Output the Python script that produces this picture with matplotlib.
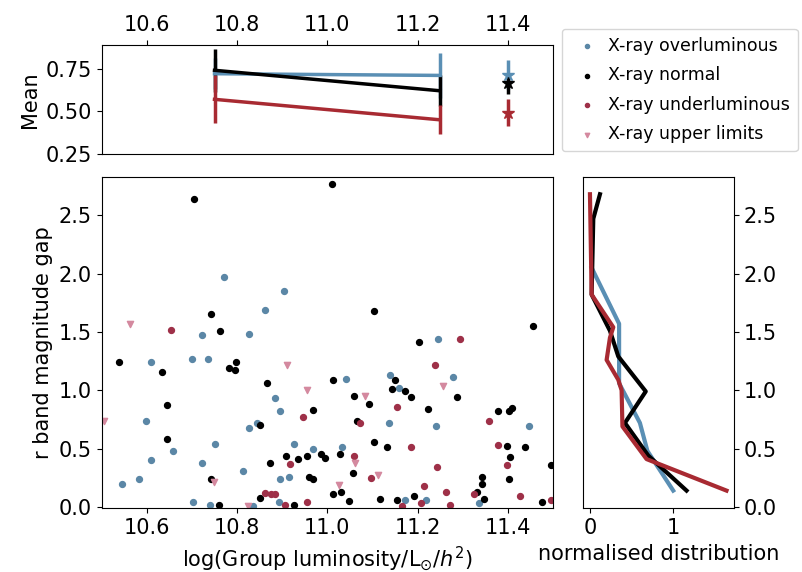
import matplotlib
matplotlib.use('Agg')
import matplotlib.pyplot as plt

# --- Farben ---
C_OVER = '#5a8fb4'
C_NORM = 'black'
C_UNDER = '#a82a32'
C_UPPER = '#d4899f'
C_OVER_S = '#5b87a6'
C_UNDER_S = '#9e3048'

# --- Streudiagramm: log(L) gegen Magnitudenlücke ---
over_x = [10.772, 10.905, 10.862, 10.722, 10.827, 11.246, 10.609, 10.701, 10.735, 10.883,
          10.895, 10.598, 10.844, 10.827, 10.657, 10.752, 10.926, 10.609, 10.722, 10.814,
          10.545, 10.582, 10.895, 10.916, 10.702, 10.739, 10.835, 10.892, 11.138, 11.278,
          11.042, 11.159, 11.446, 11.241, 11.137, 10.968, 11.032, 11.172, 11.219, 11.335]
over_y = [1.97, 1.85, 1.69, 1.47, 1.48, 1.44, 1.24, 1.27, 1.27, 0.93,
          0.82, 0.74, 0.72, 0.68, 0.48, 0.54, 0.54, 0.40, 0.38, 0.31,
          0.20, 0.24, 0.24, 0.26, 0.04, 0.02, 0.005, 0.04, 1.13, 1.11,
          1.10, 1.02, 0.69, 0.69, 0.72, 0.50, 0.51, 0.06, 0.06, 0.035]

norm_x = [10.705, 10.742, 10.762, 11.011, 11.104, 11.455, 11.204, 10.538, 10.633, 10.782,
          10.797, 10.796, 10.867, 10.644, 10.851, 10.645, 10.909, 10.936, 10.955, 10.872,
          10.742, 10.960, 10.851, 10.759, 10.927, 11.149, 11.013, 11.144, 11.171, 11.185,
          11.287, 11.059, 11.093, 11.223, 10.969, 11.379, 11.402, 11.409, 11.065, 11.104,
          11.133, 11.398, 11.439, 10.986, 10.995, 11.028, 11.405, 11.496, 10.968, 11.056,
          11.343, 11.343, 11.402, 11.331, 11.013, 11.030, 11.048, 11.117, 11.154, 11.193,
          11.348, 11.476]
norm_y = [2.64, 1.65, 1.51, 2.77, 1.68, 1.55, 1.41, 1.24, 1.16, 1.19,
          1.24, 1.17, 1.06, 0.875, 0.70, 0.58, 0.435, 0.41, 0.44, 0.38,
          0.24, 0.26, 0.08, 0.02, 0.02, 1.09, 1.09, 1.01, 0.995, 0.94,
          0.94, 0.95, 0.88, 0.84, 0.835, 0.82, 0.82, 0.85, 0.74, 0.56,
          0.51, 0.52, 0.51, 0.45, 0.42, 0.45, 0.43, 0.36, 0.24, 0.29,
          0.26, 0.195, 0.24, 0.125, 0.115, 0.125, 0.05, 0.07, 0.06, 0.09,
          0.07, 0.04]

under_x = [10.653, 11.295, 10.947, 10.917, 10.862, 10.875, 10.883, 10.906, 10.955, 11.239,
           11.154, 11.359, 11.073, 11.185, 11.379, 11.059, 11.399, 11.243, 11.096, 11.215,
           11.263, 11.326, 11.427, 11.165, 11.208, 11.272, 11.496]
under_y = [1.52, 1.44, 0.77, 0.37, 0.12, 0.11, 0.11, 0.02, 0.04, 1.215,
           0.86, 0.74, 0.72, 0.51, 0.53, 0.44, 0.36, 0.34, 0.25, 0.18,
           0.13, 0.115, 0.095, 0.01, 0.035, 0.02, 0.06]

upper_x = [10.563, 10.910, 10.956, 10.506, 10.749, 10.824, 11.256, 11.084, 11.062, 11.113, 11.025]
upper_y = [1.57, 1.22, 1.00, 0.74, 0.21, 0.005, 1.035, 0.95, 0.38, 0.27, 0.19]

# --- Mittelwerte (oben) ---
bin_x = [10.75, 11.25]
over_mean = [0.72, 0.71]
over_err = [0.09, 0.13]
norm_mean = [0.74, 0.62]
norm_err = [0.125, 0.09]
under_mean = [0.57, 0.45]
under_err = [0.14, 0.085]

all_x = [11.4]
over_all, over_all_err = [0.713], [0.085]
norm_all, norm_all_err = [0.664], [0.06]
under_all, under_all_err = [0.492], [0.08]

# --- normierte Verteilungen (rechts) ---
over_dist = [0.02, 0.35, 0.35, 0.60, 0.69, 1.00]
over_gap = [2.05, 1.57, 1.06, 0.72, 0.48, 0.14]
norm_dist = [0.12, 0.04, 0.02, 0.24, 0.34, 0.67, 0.42, 0.70, 1.16]
norm_gap = [2.68, 2.47, 1.82, 1.51, 1.29, 0.99, 0.72, 0.44, 0.14]
under_dist = [0.0, 0.02, 0.28, 0.24, 0.20, 0.34, 0.38, 0.39, 0.68, 1.64]
under_gap = [2.68, 1.82, 1.54, 1.45, 1.26, 1.09, 1.00, 0.69, 0.41, 0.14]

FS = 15

fig = plt.figure(figsize=(8.02, 5.72), dpi=100)
ax_top = fig.add_axes([0.1268, 0.7308, 0.5627, 0.1905])
ax = fig.add_axes([0.1268, 0.1113, 0.5627, 0.5787])
ax_r = fig.add_axes([0.7269, 0.1113, 0.1883, 0.5787])

# Hauptplot
h1 = ax.scatter(over_x, over_y, s=18, color=C_OVER_S, marker='o', label='X-ray overluminous')
h2 = ax.scatter(norm_x, norm_y, s=18, color=C_NORM, marker='o', label='X-ray normal')
h3 = ax.scatter(under_x, under_y, s=18, color=C_UNDER_S, marker='o', label='X-ray underluminous')
h4 = ax.scatter(upper_x, upper_y, s=20, color=C_UPPER, marker='v', label='X-ray upper limits')
ax.set_xlim(10.5, 11.5)
ax.set_ylim(-0.012, 2.825)
ax.set_xticks([10.6, 10.8, 11.0, 11.2, 11.4])
ax.set_yticks([0.0, 0.5, 1.0, 1.5, 2.0, 2.5])
ax.tick_params(labelsize=FS)
ax.set_xlabel(r'log(Group luminosity/L$_{\odot}$/$h^2$)', fontsize=FS)
ax.set_ylabel('r band magnitude gap', fontsize=FS)

# oberes Panel
for m, e, ma, ea, c in [(over_mean, over_err, over_all, over_all_err, C_OVER),
                        (norm_mean, norm_err, norm_all, norm_all_err, C_NORM),
                        (under_mean, under_err, under_all, under_all_err, C_UNDER)]:
    ax_top.errorbar(bin_x, m, yerr=e, color=c, lw=2.5, elinewidth=2.5, capsize=0)
    ax_top.errorbar(all_x, ma, yerr=ea, color=c, marker='*', ms=9, ls='none',
                    elinewidth=2.5, capsize=0)
ax_top.set_xlim(10.5, 11.5)
ax_top.set_ylim(0.25, 0.888)
ax_top.set_xticks([10.6, 10.8, 11.0, 11.2, 11.4])
ax_top.set_yticks([0.25, 0.50, 0.75])
ax_top.xaxis.tick_top()
ax_top.tick_params(labelsize=FS)
ax_top.set_ylabel('Mean', fontsize=FS)

# rechtes Panel
ax_r.plot(over_dist, over_gap, color=C_OVER, lw=3)
ax_r.plot(norm_dist, norm_gap, color=C_NORM, lw=3)
ax_r.plot(under_dist, under_gap, color=C_UNDER, lw=3)
ax_r.set_xlim(-0.084, 1.73)
ax_r.set_ylim(-0.012, 2.825)
ax_r.set_xticks([0, 1])
ax_r.set_yticks([0.0, 0.5, 1.0, 1.5, 2.0, 2.5])
ax_r.yaxis.tick_right()
ax_r.tick_params(labelsize=FS)
ax_r.set_xlabel('normalised distribution', fontsize=FS)

fig.legend(handles=[h1, h2, h3, h4], loc='upper left',
           bbox_to_anchor=(562 / 802, 1 - 29 / 572), fontsize=12.5,
           markerscale=0.7, handletextpad=0.2, borderaxespad=0, labelspacing=0.66,
           borderpad=0.45)

fig.savefig('out.png', dpi=100)
